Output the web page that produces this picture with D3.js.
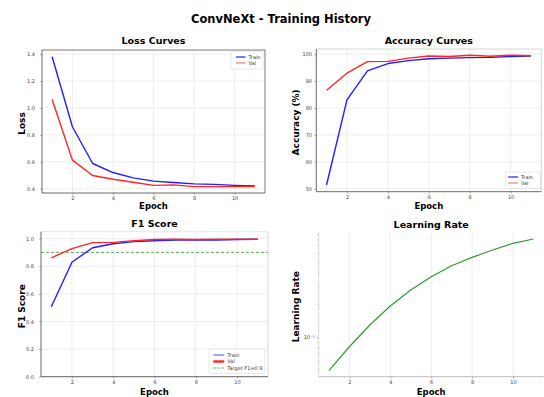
<!DOCTYPE html>
<html>
<head>
<meta charset="utf-8">
<script src="https://cdn.jsdelivr.net/npm/d3@7"></script>
<style>
  body { margin: 0; background: #fff; }
  text { font-family: "DejaVu Sans", sans-serif; }
</style>
</head>
<body>
<svg id="chart" width="544" height="397"></svg>
<script>
const epochs = [1, 2, 3, 4, 5, 6, 7, 8, 9, 10, 11];
const xTicks = [2, 4, 6, 8, 10];

const trainLoss = [1.38, 0.86, 0.587, 0.52, 0.48, 0.456, 0.446, 0.436, 0.432, 0.425, 0.42];
const valLoss = [1.063, 0.612, 0.498, 0.47, 0.448, 0.425, 0.428, 0.415, 0.415, 0.415, 0.415];

const trainAcc = [51.4, 83.0, 93.8, 96.5, 97.6, 98.3, 98.5, 98.7, 98.8, 99.1, 99.3];
const valAcc = [86.6, 92.9, 97.2, 97.3, 98.5, 99.3, 99.1, 99.6, 99.2, 99.6, 99.4];

const trainF1 = [0.507, 0.829, 0.934, 0.963, 0.978, 0.985, 0.99, 0.99, 0.99, 0.993, 0.995];
const valF1 = [0.861, 0.927, 0.971, 0.973, 0.985, 0.993, 0.995, 0.994, 0.995, 0.996, 0.995];
const targetF1 = 0.9;

const learningRate = [4.91e-4, 8.18e-4, 1.30e-3, 1.95e-3, 2.74e-3, 3.64e-3, 4.60e-3, 5.50e-3, 6.43e-3, 7.42e-3, 8.13e-3];

const svg = d3.select('#chart');

svg.append('text')
  .attr('x', 281).attr('y', 23)
  .attr('text-anchor', 'middle')
  .attr('font-size', 11.5).attr('font-weight', 'bold')
  .text('ConvNeXt - Training History');

function drawPanel(p) {
  const x = d3.scaleLinear().domain([0.5, 11.5]).range([p.left, p.right]);
  const y = (p.log ? d3.scaleLog() : d3.scaleLinear()).domain(p.yDomain).range([p.bottom, p.top]);
  const g = svg.append('g');

  // grid
  g.append('g').selectAll('line').data(xTicks).join('line')
    .attr('x1', d => x(d)).attr('x2', d => x(d))
    .attr('y1', p.top).attr('y2', p.bottom)
    .attr('stroke', '#e8e8e8').attr('stroke-width', 0.8);
  if (p.yGrid) {
    g.append('g').selectAll('line').data(p.yTicks).join('line')
      .attr('x1', p.left).attr('x2', p.right)
      .attr('y1', d => y(d)).attr('y2', d => y(d))
      .attr('stroke', '#e8e8e8').attr('stroke-width', 0.8);
  }

  // axes
  const xa = g.append('g').attr('transform', `translate(0,${p.bottom})`)
    .call(d3.axisBottom(x).tickValues(xTicks).tickSize(2).tickPadding(1.5));
  const ya = g.append('g').attr('transform', `translate(${p.left},0)`)
    .call(d3.axisLeft(y).tickValues(p.yTicks).tickFormat(p.yFormat).tickSize(2).tickPadding(p.yPad));
  [xa, ya].forEach(a => {
    a.select('.domain').remove();
    a.selectAll('line').attr('stroke', '#666').attr('stroke-width', 0.5);
    a.selectAll('text').attr('font-size', 5).attr('fill', '#444').attr('font-family', '"DejaVu Sans", sans-serif');
  });
  if (p.minorTicks) {
    g.append('g').selectAll('line').data(p.minorTicks).join('line')
      .attr('x1', p.left - 1.3).attr('x2', p.left)
      .attr('y1', d => y(d)).attr('y2', d => y(d))
      .attr('stroke', '#555').attr('stroke-width', 0.5);
  }

  // spines
  const sp = p.spines;
  const spine = (x1, y1, x2, y2, c) => g.append('line')
    .attr('x1', x1).attr('y1', y1).attr('x2', x2).attr('y2', y2)
    .attr('stroke', c).attr('stroke-width', 0.8);
  if (sp.top) spine(p.left, p.top, p.right, p.top, sp.top);
  if (sp.right) spine(p.right, p.top, p.right, p.bottom, sp.right);
  spine(p.left, p.top, p.left, p.bottom, sp.left);
  spine(p.left, p.bottom, p.right, p.bottom, sp.bottom);

  // reference line
  if (p.hline != null) {
    g.append('line')
      .attr('x1', p.left).attr('x2', p.right)
      .attr('y1', y(p.hline)).attr('y2', y(p.hline))
      .attr('stroke', '#2e9b2e').attr('stroke-width', 0.8)
      .attr('stroke-dasharray', '3,2');
  }

  // series
  const line = d3.line().x((d, i) => x(epochs[i])).y(d => y(d));
  p.series.forEach(s => {
    g.append('path').datum(s.values)
      .attr('d', line)
      .attr('fill', 'none')
      .attr('stroke', s.color)
      .attr('stroke-width', s.width || 1.4)
      .attr('stroke-linejoin', 'round');
  });

  // titles and labels
  g.append('text')
    .attr('x', (p.left + p.right) / 2).attr('y', p.titleY)
    .attr('text-anchor', 'middle')
    .attr('font-size', 9.5).attr('font-weight', 'bold')
    .text(p.title);
  g.append('text')
    .attr('x', (p.left + p.right) / 2).attr('y', p.xLabelY)
    .attr('text-anchor', 'middle')
    .attr('font-size', 8.5).attr('font-weight', 'bold')
    .text('Epoch');
  g.append('text')
    .attr('transform', `translate(${p.yLabelX},${(p.top + p.bottom) / 2 + 2}) rotate(-90)`)
    .attr('text-anchor', 'middle')
    .attr('font-size', 9).attr('font-weight', 'bold')
    .text(p.yLabel);

  // legend
  if (p.legend) {
    const L = p.legend;
    g.append('rect')
      .attr('x', L.x).attr('y', L.y).attr('width', L.w).attr('height', L.h)
      .attr('rx', 1).attr('fill', '#fff').attr('fill-opacity', 0.9)
      .attr('stroke', '#d8d8d8').attr('stroke-width', 0.6);
    L.items.forEach((it, i) => {
      const ry = L.rows[i];
      g.append('line')
        .attr('x1', L.lineX).attr('x2', L.lineX + L.lineW)
        .attr('y1', ry).attr('y2', ry)
        .attr('stroke', it.color).attr('stroke-width', it.width || 1.2)
        .attr('stroke-dasharray', it.dash || null);
      g.append('text')
        .attr('x', L.lineX + L.lineW + 3).attr('y', ry + 1.8)
        .attr('font-size', 5).attr('fill', '#333')
        .text(it.label);
    });
  }
}

drawPanel({
  left: 42, right: 265, top: 50, bottom: 193,
  yDomain: [0.368, 1.43], yTicks: [0.4, 0.6, 0.8, 1.0, 1.2, 1.4], yFormat: d3.format('.1f'), yPad: 5,
  yGrid: true,
  spines: { left: '#444', bottom: '#444', top: '#555', right: '#555' },
  series: [
    { values: trainLoss, color: '#1f1fff' },
    { values: valLoss, color: '#ff2525' }
  ],
  title: 'Loss Curves', titleY: 43.5, xLabelY: 209, yLabel: 'Loss', yLabelX: 25,
  legend: {
    x: 231, y: 51.5, w: 32, h: 17.5, lineX: 236, lineW: 9.5, rows: [57, 63],
    items: [{ label: 'Train', color: '#1f1fff' }, { label: 'Val', color: '#ff7a7a' }]
  }
});

drawPanel({
  left: 316.3, right: 541.3, top: 49, bottom: 191.7,
  yDomain: [48.9, 101.9], yTicks: [50, 60, 70, 80, 90, 100], yFormat: d3.format('d'), yPad: 2.3,
  yGrid: true,
  spines: { left: '#444', bottom: '#444', top: '#ccc', right: '#ccc' },
  series: [
    { values: trainAcc, color: '#1f1fff' },
    { values: valAcc, color: '#ff2525' }
  ],
  title: 'Accuracy Curves', titleY: 44, xLabelY: 209, yLabel: 'Accuracy (%)', yLabelX: 298.5,
  legend: {
    x: 505.5, y: 172, w: 35, h: 16.5, lineX: 508, lineW: 10, rows: [177, 183],
    items: [{ label: 'Train', color: '#1f1fff' }, { label: 'Val', color: '#ff7a7a' }]
  }
});

drawPanel({
  left: 41, right: 268, top: 231.7, bottom: 376.7,
  yDomain: [0, 1.05], yTicks: [0, 0.2, 0.4, 0.6, 0.8, 1.0], yFormat: d3.format('.1f'), yPad: 5,
  yGrid: true,
  spines: { left: '#444', bottom: '#444', top: '#ddd', right: '#ccc' },
  hline: targetF1,
  series: [
    { values: trainF1, color: '#1f1fff' },
    { values: valF1, color: '#ff2525' }
  ],
  title: 'F1 Score', titleY: 227, xLabelY: 394.5, yLabel: 'F1 Score', yLabelX: 25,
  legend: {
    x: 209, y: 349, w: 55.5, h: 24.5, lineX: 213.3, lineW: 11, rows: [355, 361.5, 368],
    items: [
      { label: 'Train', color: '#3b3bff', width: 0.9 },
      { label: 'Val', color: '#ff2525', width: 2.4 },
      { label: 'Target F1=0.9', color: '#2e9b2e', width: 0.8, dash: '2.5,1.5' }
    ]
  }
});

drawPanel({
  left: 318.7, right: 543.7, top: 232.7, bottom: 376.7,
  log: true,
  yDomain: [4.32e-4, 9.3e-3], yTicks: [1e-3], yFormat: () => '10\u207B\u00B3', yPad: 2,
  minorTicks: [5e-4, 6e-4, 7e-4, 8e-4, 9e-4, 2e-3, 3e-3, 4e-3, 5e-3, 6e-3, 7e-3, 8e-3, 9e-3],
  yGrid: false,
  spines: { left: '#d0d0d0', bottom: '#aaa' },
  series: [
    { values: learningRate, color: '#2e9b2e', width: 1.2 }
  ],
  title: 'Learning Rate', titleY: 228, xLabelY: 394.5, yLabel: 'Learning Rate', yLabelX: 299
});
</script>
</body>
</html>
